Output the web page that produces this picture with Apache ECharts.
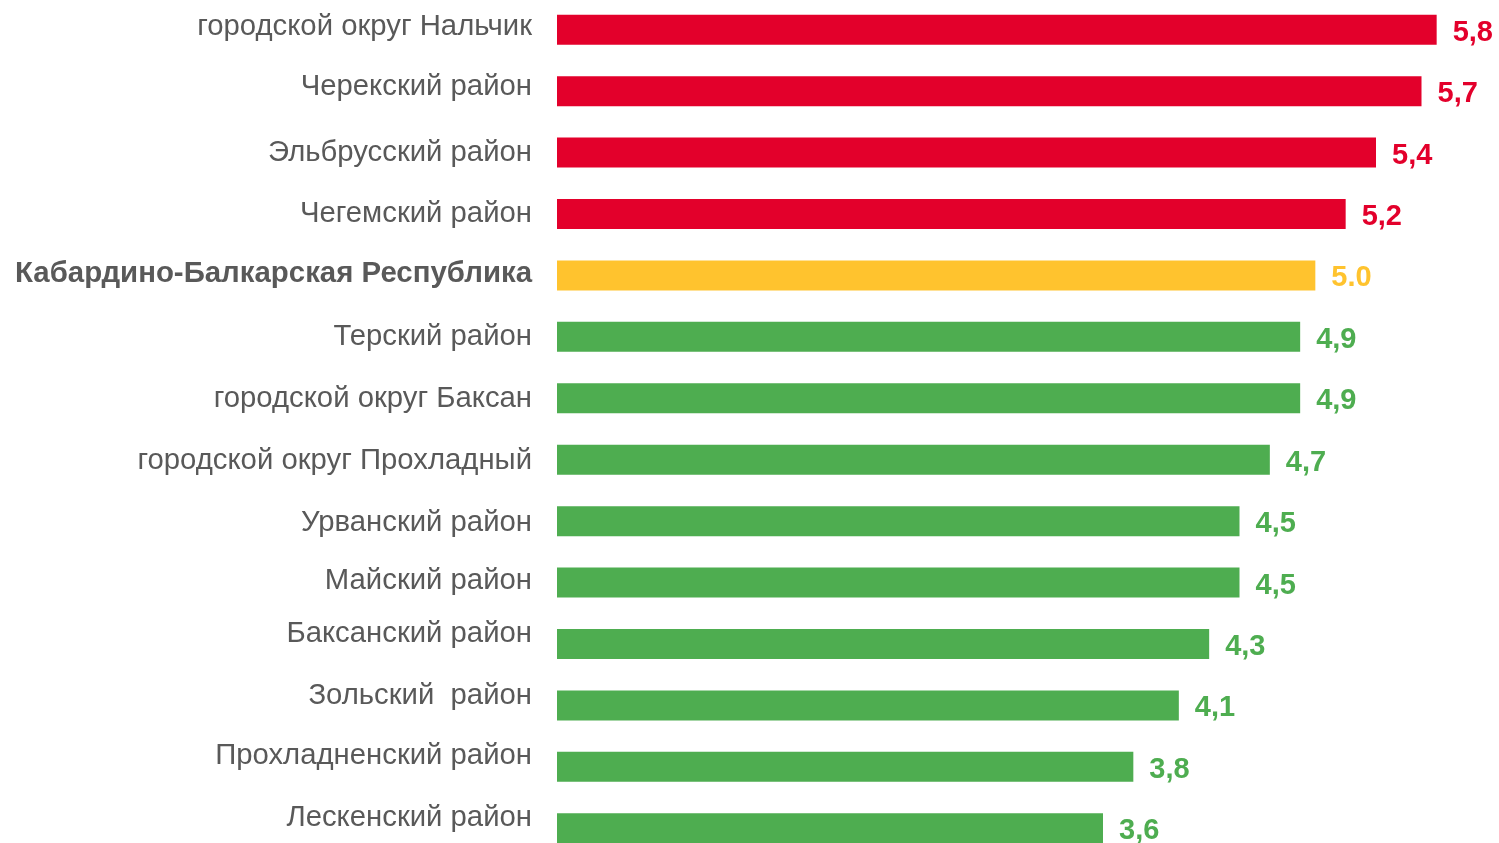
<!DOCTYPE html>
<html>
<head>
<meta charset="utf-8">
<script src="https://cdn.jsdelivr.net/npm/echarts@6/dist/echarts.min.js"></script>
<style>html,body{margin:0;padding:0;background:#fff;}#c{width:1499px;height:843px;}</style>
</head>
<body>
<div id="c"></div>
<script>
const categories = [
  'городской округ Нальчик',
  'Черекский район',
  'Эльбрусский район',
  'Чегемский район',
  'Кабардино-Балкарская Республика',
  'Терский район',
  'городской округ Баксан',
  'городской округ Прохладный',
  'Урванский район',
  'Майский район',
  'Баксанский район',
  'Зольский  район',
  'Прохладненский район',
  'Лескенский район'
];
const values = [5.8, 5.7, 5.4, 5.2, 5.0, 4.9, 4.9, 4.7, 4.5, 4.5, 4.3, 4.1, 3.8, 3.6];
const valueLabels = ['5,8','5,7','5,4','5,2','5.0','4,9','4,9','4,7','4,5','4,5','4,3','4,1','3,8','3,6'];
const groups = ['high','high','high','high','region','low','low','low','low','low','low','low','low','low'];

const groupColors = { high: '#E3002B', region: '#FFC32E', low: '#4EAD50' };
// vertical nudges of the category labels (px, negative = up), as in the reference
const labelShift = [-3, -4, 0, 0, -2, 0, 1, 1, 2, -2, -10, -10, -11, -10];

const rich = {};
categories.forEach((c, i) => {
  const s = labelShift[i];
  rich['r' + i] = {
    padding: s < 0 ? [0, 0, -2 * s, 0] : [2 * s, 0, 0, 0],
    fontSize: groups[i] === 'region' ? 29.4 : 29.3,
    fontWeight: groups[i] === 'region' ? 'bold' : 'normal',
    color: '#595959',
    fontFamily: '"Liberation Sans", Arial, sans-serif'
  };
});

const chart = echarts.init(document.getElementById('c'), null, { renderer: 'canvas' });
chart.setOption({
  animation: false,
  grid: { left: 557, right: 32, top: -1, height: 860, containLabel: false, outerBoundsMode: 'none' },
  xAxis: {
    type: 'value', min: 0, max: 6,
    show: false
  },
  yAxis: {
    type: 'category', inverse: true, data: categories,
    axisLine: { show: false }, axisTick: { show: false }, splitLine: { show: false },
    axisLabel: {
      margin: 25, fontSize: 29.3, color: '#595959',
      fontFamily: '"Liberation Sans", Arial, sans-serif',
      formatter: (v, i) => '{r' + i + '|' + v + '}',
      rich: rich
    }
  },
  series: [{
    type: 'bar',
    barWidth: 30,
    data: values.map((v, i) => ({
      value: v,
      itemStyle: { color: groupColors[groups[i]] },
      label: { color: groupColors[groups[i]] }
    })),
    label: {
      show: true, position: 'right', distance: 16, offset: [0, 3],
      fontSize: 29, fontWeight: 'bold',
      fontFamily: '"Liberation Sans", Arial, sans-serif',
      formatter: p => valueLabels[p.dataIndex]
    }
  }]
});
</script>
</body>
</html>
